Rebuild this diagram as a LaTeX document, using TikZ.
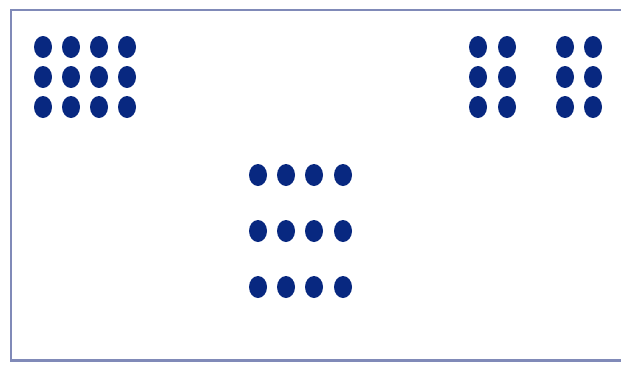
\documentclass[tikz,border=0pt]{standalone}
\usepackage{tikz}
\usetikzlibrary{shapes,positioning}
\definecolor{framegray}{RGB}{128,138,184}
\definecolor{beadblue}{RGB}{8,40,128}

\begin{document}
\begin{tikzpicture}[x=0.02cm,y=-0.02cm]
  % counting beads in three groups
  \tikzset{bead/.style={ellipse,fill=beadblue,inner sep=0pt,minimum width=0.36cm,minimum height=0.44cm}}
  \useasboundingbox (0,0) rectangle (621,365);
  \clip (0,0) rectangle (621,365);
  \fill[white] (0,0) rectangle (621,365);
  % frame, open to the right
  \draw[framegray,line width=1.7pt] (640,10) -- (11,10) -- (11,360) -- (640,360);
  % top left block
  \foreach \r/\y in {1/47,2/77,3/107}
    \foreach \c/\x in {1/43,2/71,3/99,4/127}
      \node[bead] (tl\r\c) at (\x,\y) {};
  % top right pairs
  \foreach \r/\y in {1/47,2/77,3/107}
    \foreach \c/\x in {1/478,2/507,3/565,4/593}
      \node[bead] (tr\r\c) at (\x,\y) {};
  % middle block
  \foreach \r/\y in {1/175,2/231,3/287}
    \foreach \c/\x in {1/258,2/286,3/314,4/343}
      \node[bead] (md\r\c) at (\x,\y) {};
\end{tikzpicture}
\end{document}
